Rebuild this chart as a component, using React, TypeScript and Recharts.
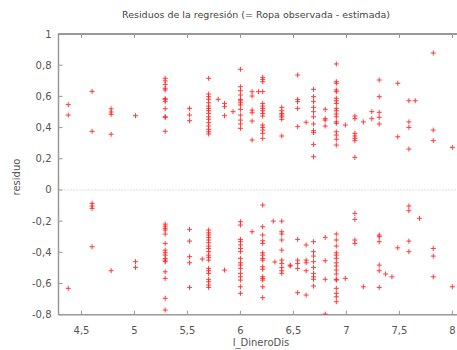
import type { CSSProperties } from 'react';
import { ScatterChart, Scatter, XAxis, YAxis, ReferenceLine } from 'recharts';

// l_DineroDis value of each vertical group of points
const dineroDis = [
  4.375, 4.6, 4.78, 5.01, 5.29, 5.52, 5.64, 5.7, 5.79, 5.85, 5.93, 6.0, 6.11, 6.17, 6.21, 6.31, 6.325, 6.39, 6.47,
  6.54, 6.62, 6.69, 6.8, 6.905, 6.99, 7.08, 7.16, 7.24, 7.31, 7.37, 7.43, 7.485, 7.59, 7.65, 7.69, 7.82, 8.0,
];

// residuals observed at each of those x values
const residuos = [
  [0.547, 0.48, -0.631],
  [0.632, 0.376, -0.086, -0.103, -0.118, -0.364],
  [0.52, 0.5, 0.485, 0.357, -0.518],
  [0.476, -0.46, -0.497],
  [0.716, 0.699, 0.677, 0.652, 0.641, 0.585, 0.581, 0.566, 0.521, 0.469, 0.466, 0.376, -0.219, -0.232, -0.246, -0.257, -0.283, -0.343, -0.386, -0.403, -0.418, -0.439, -0.45, -0.46, -0.525, -0.567, -0.695, -0.77],
  [0.523, 0.48, 0.444, -0.253, -0.328, -0.428, -0.467, -0.625],
  [-0.443],
  [0.716, 0.615, 0.598, 0.581, 0.559, 0.538, 0.523, 0.508, 0.491, 0.469, 0.453, 0.431, 0.41, 0.389, 0.373, 0.359, -0.257, -0.275, -0.289, -0.304, -0.321, -0.339, -0.36, -0.375, -0.396, -0.418, -0.432, -0.45, -0.503, -0.518, -0.535, -0.573, -0.589, -0.61, -0.625],
  [0.581],
  [0.555, 0.534, 0.476, -0.514],
  [0.502],
  [0.774, 0.662, 0.636, 0.609, 0.581, 0.572, 0.559, 0.545, 0.517, 0.48, 0.448, 0.423, 0.395, -0.204, -0.225, -0.317, -0.332, -0.353, -0.375, -0.396, -0.439, -0.467, -0.482, -0.503, -0.535, -0.557, -0.578, -0.621, -0.663],
  [0.63, 0.602, 0.512, 0.495, 0.442, 0.32, -0.268],
  [0.63],
  [0.722, 0.709, 0.694, 0.63, 0.555, 0.538, 0.523, 0.508, 0.491, 0.474, 0.416, 0.401, 0.384, 0.363, 0.331, -0.097, -0.236, -0.289, -0.326, -0.343, -0.403, -0.418, -0.439, -0.45, -0.493, -0.509, -0.557, -0.567, -0.578, -0.621, -0.691],
  [-0.2],
  [-0.462],
  [0.53, 0.508, 0.491, 0.48, 0.469, 0.453, 0.346, -0.2, -0.268, -0.283, -0.321, -0.386, -0.45, -0.471, -0.497, -0.518, -0.535],
  [-0.482, -0.488],
  [0.737, 0.581, 0.566, 0.523, 0.406, -0.317, -0.45, -0.471, -0.503, -0.659],
  [0.434, -0.353, -0.45, -0.467, -0.518, -0.674],
  [0.645, 0.598, 0.566, 0.53, 0.502, 0.469, 0.423, 0.38, 0.367, 0.292, 0.213, -0.332, -0.396, -0.424, -0.46, -0.497, -0.535, -0.557, -0.573, -0.616],
  [0.517, 0.457, 0.448, 0.41, -0.304, -0.454, -0.573, -0.796],
  [0.808, 0.694, 0.684, 0.641, 0.63, 0.588, 0.572, 0.555, 0.523, 0.508, 0.487, 0.469, 0.437, 0.427, 0.373, 0.352, 0.325, 0.288, -0.283, -0.321, -0.36, -0.403, -0.418, -0.439, -0.467, -0.488, -0.514, -0.539, -0.573, -0.578, -0.631, -0.663, -0.685, -0.717],
  [0.416, -0.567],
  [0.474, 0.457, 0.363, 0.346, 0.331, 0.316, 0.209, -0.15, -0.189, -0.321, -0.343],
  [0.436, -0.621],
  [0.502, 0.457],
  [0.705, 0.598, 0.498, 0.466, 0.423, -0.289, -0.3, -0.332, -0.482, -0.518, -0.625],
  [-0.539],
  [-0.557],
  [0.684, 0.341, -0.371],
  [0.572, 0.436, 0.401, 0.262, -0.103, -0.133, -0.328, -0.396],
  [0.572],
  [-0.182],
  [0.878, 0.384, 0.316, -0.375, -0.424, -0.557],
  [0.273, -0.621],
];

const xTicks = [4.5, 5, 5.5, 6, 6.5, 7, 7.5, 8];
const yTicks = [-0.8, -0.6, -0.4, -0.2, 0, 0.2, 0.4, 0.6, 0.8, 1];

const points = dineroDis.flatMap((x, i) => residuos[i].map(r => ({ x, r })));

const FONT = '"DejaVu Sans", sans-serif';
const AXIS = '#999';
const TEXT = '#555';
const X_DOMAIN: [number, number] = [4.283, 8.044];

const W = 457;
const H = 350;
const PLOT_LEFT = 58.5;
const PLOT_TOP = 34;

const fmt = (v: number) => String(v).replace('.', ',');

const Plus = (props: any) => {
  const { cx, cy } = props;
  if (cx == null || cy == null) return null;
  return (
    <path
      d={`M${cx - 2.5},${cy}h5M${cx},${cy - 2.5}v5`}
      stroke="#ff1a1a"
      strokeWidth={1}
      opacity={0.85}
    />
  );
};

const caption: CSSProperties = {
  position: 'absolute',
  fontFamily: FONT,
  fontSize: 10,
  lineHeight: '12px',
  color: TEXT,
  whiteSpace: 'nowrap',
  pointerEvents: 'none',
};

// top side of the frame as plain html, with the mirrored inward ticks
function TopFrame() {
  const toX = (t: number) => PLOT_LEFT + ((t - X_DOMAIN[0]) / (X_DOMAIN[1] - X_DOMAIN[0])) * (W - PLOT_LEFT);
  return (
    <>
      <div
        style={{
          position: 'absolute',
          left: PLOT_LEFT - 1,
          top: PLOT_TOP - 1,
          width: W - PLOT_LEFT + 1,
          height: 2,
          background: AXIS,
          zIndex: 5,
        }}
      />
      {xTicks.map(t => (
        <div
          key={t}
          style={{
            position: 'absolute',
            left: Math.round(toX(t)) - 0.5,
            top: PLOT_TOP,
            width: 1,
            height: 4,
            background: AXIS,
            zIndex: 5,
          }}
        />
      ))}
    </>
  );
}

export default function App() {
  return (
    <div style={{ position: 'absolute', left: 0, top: 0, width: W, height: H, background: '#fff' }}>
      <ScatterChart width={W} height={H} margin={{ top: PLOT_TOP, right: 0, bottom: 0, left: 0 }}>
        <XAxis
          type="number"
          dataKey="x"
          domain={X_DOMAIN}
          ticks={xTicks}
          height={35.3}
          tickSize={-4}
          tickMargin={16}
          tickFormatter={fmt}
          tick={{ fill: TEXT, fontSize: 10, fontFamily: FONT }}
          axisLine={{ stroke: AXIS, strokeWidth: 1.5 }}
          tickLine={{ stroke: AXIS }}
          allowDataOverflow
        />
        <YAxis
          type="number"
          dataKey="r"
          domain={[-0.8, 1]}
          ticks={yTicks}
          width={PLOT_LEFT}
          tickSize={-4}
          tickMargin={11}
          tickFormatter={fmt}
          tick={{ fill: TEXT, fontSize: 10, fontFamily: FONT }}
          axisLine={{ stroke: AXIS, strokeWidth: 1.5 }}
          tickLine={{ stroke: AXIS }}
          allowDataOverflow
        />
        <ReferenceLine y={0} stroke="#bbb" strokeDasharray="1 2" />
        <Scatter data={points} shape={Plus} isAnimationActive={false} />
      </ScatterChart>
      <TopFrame />
      <div style={{ ...caption, left: 256, top: 9, fontSize: 9.5, color: '#444', transform: 'translateX(-50%)' }}>
        Residuos de la regresión (= Ropa observada - estimada)
      </div>
      <div style={{ ...caption, left: 17, top: 177, transform: 'translate(-50%, -50%) rotate(-90deg)' }}>
        residuo
      </div>
      <div style={{ ...caption, left: 261, top: 336.5, transform: 'translateX(-50%)' }}>
        l_DineroDis
      </div>
    </div>
  );
}
